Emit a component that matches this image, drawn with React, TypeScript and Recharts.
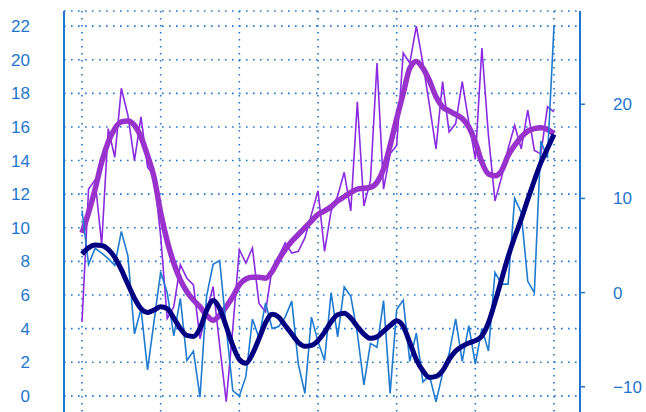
import React from 'react';
import { LineChart, Line, XAxis, YAxis, CartesianGrid } from 'recharts';

// thin purple series (left axis)
const purpleRaw = [
  4.4, 12.3, 12.85, 9.0, 15.9, 14.2, 18.3, 16.7, 14.0, 16.6,
  13.6, 13.1, 9.5, 4.6, 5.3, 7.8, 7.0, 6.6, 3.4, 5.0,
  6.5, 3.0, -0.35, 4.0, 8.7, 7.9, 8.8, 5.5, 5.0, 7.6,
  8.3, 9.1, 8.5, 8.6, 9.4, 10.8, 12.2, 8.6, 11.0, 11.9,
  13.3, 11.0, 17.5, 11.3, 12.8, 19.8, 12.3, 14.4, 14.9, 20.4,
  19.8, 22.0, 19.8, 17.3, 14.7, 18.7, 15.7, 16.2, 18.7, 16.3,
  14.1, 20.7, 15.5, 11.6, 13.0, 14.7, 16.1, 14.7, 17.0, 14.6,
  14.4, 17.2, 16.9,
];

// smoothed purple (left axis)
const purpleSmooth = [
  9.7, 10.9, 12.3, 13.9, 15.1, 15.9, 16.3, 16.35, 16.1, 15.4,
  14.3, 13.0, 10.9, 9.2, 7.9, 6.9, 6.2, 5.7, 5.3, 4.8,
  4.5, 4.8, 5.3, 5.9, 6.6, 6.95, 7.05, 7.05, 7.0, 7.4,
  8.1, 8.7, 9.2, 9.6, 10.0, 10.4, 10.8, 11.0, 11.25, 11.6,
  11.85, 12.1, 12.3, 12.35, 12.4, 12.7, 13.5, 14.9, 16.5, 18.0,
  19.5, 19.9, 19.5, 18.75, 17.8, 17.2, 16.95, 16.75, 16.5, 16.0,
  15.1, 13.9, 13.2, 13.1, 13.4, 14.3, 14.9, 15.4, 15.75, 15.9,
  15.95, 15.85, 15.6,
];

// thin blue series (right axis)
const blueRaw = [
  8.7, 3.0, 4.7, 4.2, 3.6, 2.9, 6.5, 3.9, -4.4, -1.7,
  -8.2, -3.0, 2.2, 0.0, -4.6, -0.6, -7.2, -6.2, -11.1, -0.4,
  3.0, 3.4, -3.7, -10.4, -11.0, -8.9, -2.8, -4.8, -1.1, -3.8,
  -3.6, -2.6, -0.9, -7.6, -10.7, -2.6, -5.2, -7.2, 0.0, -4.7,
  0.6, -0.4, -4.3, -9.8, -5.4, -5.8, -0.85, -10.7, -1.8, -0.8,
  -7.3, -4.3, -9.5, -8.8, -11.6, -8.6, -6.5, -2.8, -7.3, -3.5,
  -7.6, -3.8, -6.2, 2.15, 0.9, 0.9, 10.0, 8.5, 1.2, 0.0,
  16.1, 14.3, 28.3,
];

// smoothed navy (right axis)
const navySmooth = [
  4.1, 4.75, 5.05, 5.0, 4.6, 3.75, 2.45, 0.9, -0.6, -1.7,
  -2.1, -1.85, -1.5, -1.7, -2.7, -3.8, -4.55, -4.65, -3.8, -1.9,
  -0.85, -1.7, -3.6, -5.6, -7.1, -7.5, -6.5, -4.9, -3.2, -2.3,
  -2.6, -3.5, -4.4, -5.3, -5.7, -5.6, -5.1, -4.2, -3.1, -2.35,
  -2.2, -2.7, -3.6, -4.4, -4.85, -4.7, -4.1, -3.5, -3.0, -3.6,
  -5.3, -7.1, -8.3, -9.0, -8.9, -8.3, -7.1, -6.2, -5.7, -5.35,
  -5.1, -4.6, -3.2, -1.0, 1.4, 3.8, 5.9, 7.8, 9.9, 11.9,
  13.8, 15.3, 16.8,
];

const xTicks = [0, 12, 24, 36, 48, 60, 72];
const leftTicks = [0, 2, 4, 6, 8, 10, 12, 14, 16, 18, 20, 22];
const rightTicks = [-10, 0, 10, 20];

const AXIS = '#1f76cc';
const FONT = '"Liberation Sans", Arial, sans-serif';

const chartData = purpleRaw.map((v, i) => ({
  t: i,
  purpleRaw: v,
  purpleSmooth: purpleSmooth[i],
  blueRaw: blueRaw[i],
  navySmooth: navySmooth[i],
}));

const minus = (v: number) => String(v).replace('-', '\u2212');

const App: React.FC = () => {
  return (
    <div style={{ position: 'fixed', left: 0, top: 0, width: 646, height: 412, overflow: 'hidden', background: '#fff' }}>
      <LineChart width={646} height={446} data={chartData} margin={{ top: 11, right: 0, bottom: 0, left: 0 }}>
        <CartesianGrid yAxisId="left" stroke={AXIS} strokeWidth={1.6} strokeDasharray="1.6 5.4" />
        {/* bottom axis sits below the visible area; it only feeds the vertical grid */}
        <XAxis
          dataKey="t"
          type="number"
          domain={[0, 72]}
          ticks={xTicks}
          interval={0}
          padding={{ left: 18, right: 26 }}
          height={30}
          axisLine={false}
          tickLine={false}
          tick={() => <g />}
        />
        <XAxis
          xAxisId="top"
          orientation="top"
          dataKey="t"
          type="number"
          domain={[0, 72]}
          padding={{ left: 18, right: 26 }}
          height={0}
          tick={false}
          tickLine={false}
          axisLine={{ stroke: AXIS, strokeWidth: 2 }}
        />
        <YAxis
          yAxisId="left"
          orientation="left"
          type="number"
          width={64}
          domain={[-1.2, 22.9]}
          ticks={leftTicks}
          interval={0}
          allowDataOverflow
          tickLine={false}
          tickSize={0}
          tickMargin={34}
          axisLine={{ stroke: AXIS, strokeWidth: 2 }}
          tick={{ fill: AXIS, fontSize: 17, fontFamily: FONT }}
        />
        <YAxis
          yAxisId="right"
          orientation="right"
          type="number"
          width={66}
          domain={[-13.1, 29.9]}
          ticks={rightTicks}
          interval={0}
          allowDataOverflow
          tickSize={5}
          tickMargin={28}
          tickFormatter={minus}
          tickLine={{ stroke: AXIS, strokeWidth: 1.5 }}
          axisLine={{ stroke: AXIS, strokeWidth: 2 }}
          tick={{ fill: AXIS, fontSize: 17, fontFamily: FONT }}
        />
        <Line
          yAxisId="left"
          type="linear"
          dataKey="purpleRaw"
          stroke="#8a2be2"
          strokeWidth={1.6}
          dot={false}
          isAnimationActive={false}
        />
        <Line
          yAxisId="left"
          type="monotone"
          dataKey="purpleSmooth"
          stroke="#9932cc"
          strokeWidth={5.5}
          strokeLinejoin="round"
          dot={false}
          isAnimationActive={false}
        />
        <Line
          yAxisId="right"
          type="linear"
          dataKey="blueRaw"
          stroke="#1f7bd0"
          strokeWidth={1.6}
          dot={false}
          isAnimationActive={false}
        />
        <Line
          yAxisId="right"
          type="monotone"
          dataKey="navySmooth"
          stroke="#000080"
          strokeWidth={5}
          strokeLinejoin="round"
          dot={false}
          isAnimationActive={false}
        />
      </LineChart>
    </div>
  );
};

export default App;
